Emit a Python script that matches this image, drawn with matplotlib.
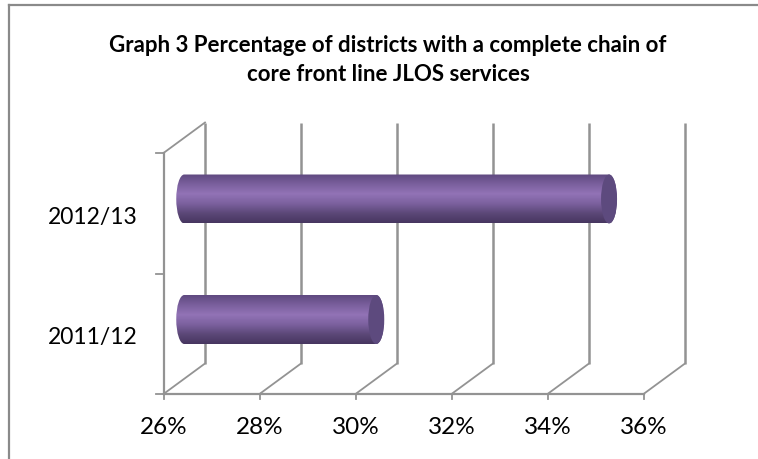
import matplotlib
matplotlib.use("Agg")
import matplotlib.pyplot as plt
import numpy as np
from matplotlib.colors import LinearSegmentedColormap
from matplotlib.lines import Line2D
from matplotlib.patches import Ellipse, PathPatch
from matplotlib.path import Path
from matplotlib.transforms import Affine2D

title = "Graph 3 Percentage of districts with a complete chain of\ncore front line JLOS services"
categories = ["2011/12", "2012/13"]
values = [30.0, 34.85]
x_ticks = [26, 28, 30, 32, 34, 36]

W, H = 758, 459
DPI = 100
plt.rcParams["font.family"] = ["Lato", "DejaVu Sans"]
GRID = "#939393"
CAP = "#5d4a7e"

fig = plt.figure(figsize=(W / DPI, H / DPI), dpi=DPI, facecolor="white")

# Front plane of the 3-D box, in pixel coordinates of the figure
L, R, B, T = 163.5, 643.5, 394.0, 153.0
ax = fig.add_axes([L / W, 1 - B / H, (R - L) / W, (B - T) / H])
ax.set_xlim(26, 36)
ax.set_ylim(0, 2)
ax.axis("off")

# Chart frame: only the top and left edges fall inside the figure
for xs, ys in [((9 / W, 9 / W), (0, 1 - 4.5 / H)), ((9 / W, 1), (1 - 4.5 / H, 1 - 4.5 / H))]:
    fig.add_artist(Line2D(xs, ys, transform=fig.transFigure, color="#8a8a8a", lw=1.6))


def shifted(dx, dy):
    """Data transform moved by a depth offset given in pixels."""
    return ax.transData + Affine2D().translate(dx, dy)


DX, DY = 41.5, 30.5
back = shifted(DX, DY)
mid = shifted(DX / 2, DY / 2 - 1)
clip = dict(clip_on=False)

# Back wall gridlines and floor edges running to the front
for t in x_ticks:
    ax.plot([t, t], [0, 2], color=GRID, lw=1.8, transform=back, solid_capstyle="butt", **clip)
    ax.plot([t, t + DX / 48], [0, DY / 120.5], color=GRID, lw=1.3, **clip)
    ax.plot([t, t], [0, -5 / 120.5], color=GRID, lw=1.3, **clip)

# Front axis lines, category ticks and the top-left wall edge
ax.plot([26, 36], [0, 0], color=GRID, lw=1.6, **clip)
ax.plot([26, 26], [0, 2], color=GRID, lw=1.6, **clip)
ax.plot([26, 26 + DX / 48], [2, 2 + DY / 120.5], color=GRID, lw=1.3, **clip)
for yv in [0, 1, 2]:
    ax.plot([26 - 8 / 48, 26], [yv, yv], color=GRID, lw=1.3, **clip)

# Vertical shading across a cylinder
shade = LinearSegmentedColormap.from_list(
    "cyl", ["#5f4a80", "#7a5f9d", "#9273b6", "#7c619f", "#5c4878", "#473660"])
grad = np.linspace(0, 1, 128).reshape(-1, 1)

half_h = 49 / 2 / 120.5
half_w = 8 / 48

for i, v in enumerate(values):
    yc = i + 0.5
    x0, x1 = 26.0, v
    k = 0.5523
    verts = [(x0, yc - half_h),
             (x0 - k * half_w, yc - half_h), (x0 - half_w, yc - k * half_h), (x0 - half_w, yc),
             (x0 - half_w, yc + k * half_h), (x0 - k * half_w, yc + half_h), (x0, yc + half_h),
             (x1, yc + half_h),
             (x1 + k * half_w, yc + half_h), (x1 + half_w, yc + k * half_h), (x1 + half_w, yc),
             (x1 + half_w, yc - k * half_h), (x1 + k * half_w, yc - half_h), (x1, yc - half_h),
             (x0, yc - half_h)]
    codes = [Path.MOVETO] + [Path.CURVE4] * 6 + [Path.LINETO] + [Path.CURVE4] * 6 + [Path.CLOSEPOLY]
    outline = PathPatch(Path(verts, codes), transform=mid, facecolor="none", edgecolor="none", zorder=3)
    ax.add_patch(outline)
    im = ax.imshow(grad, cmap=shade, aspect="auto", zorder=3, interpolation="bilinear",
                   extent=(x0 - half_w, x1 + half_w, yc - half_h, yc + half_h), transform=mid)
    im.set_clip_path(outline)
    ax.add_patch(Ellipse((x1, yc), 2 * half_w, 2 * half_h, transform=mid,
                         facecolor=CAP, edgecolor="none", zorder=4, **clip))

ax.set_xlim(26, 36)
ax.set_ylim(0, 2)

# Axis labels
for t in x_ticks:
    ax.annotate(f"{t}%", (t, 0), xytext=(0, -34), textcoords="offset pixels",
                ha="center", va="center", fontsize=17.5, color="black", annotation_clip=False)
for i, c in enumerate(categories):
    ax.annotate(c, (26, i + 0.5), xytext=(-71, -4), textcoords="offset pixels",
                ha="center", va="center", fontsize=16.5, color="black", annotation_clip=False)

fig.text(388 / W, 1 - 60 / H, title, ha="center", va="center", fontsize=16,
         fontweight="bold", color="black", linespacing=1.5)

fig.savefig("out.png", dpi=DPI)
